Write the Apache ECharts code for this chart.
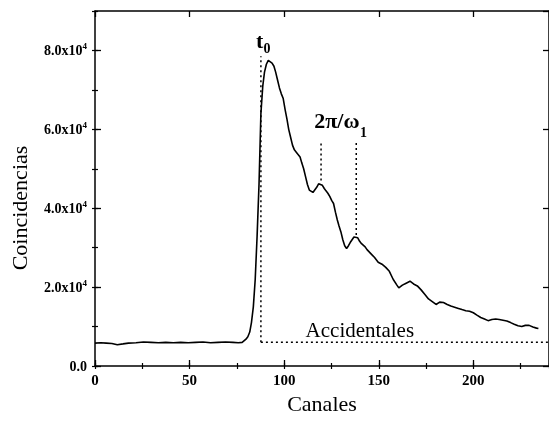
<!DOCTYPE html>
<html>
<head>
<meta charset="utf-8">
<script src="https://cdn.jsdelivr.net/npm/echarts@6/dist/echarts.min.js"></script>
<style>
  html, body { margin: 0; padding: 0; background: #fff; }
  #chart { width: 549px; height: 421px; }
</style>
</head>
<body>
<div id="chart"></div>
<script>
// Coincidence spectrum: counts per channel
const channels = [0, 3, 5.9, 8.9, 11.8, 14.8, 17.7, 21.7, 25.6, 29.6, 33.5, 37.4, 41.4, 45.3, 49.3, 53.2, 57.1, 61.1, 65, 69, 72.9, 75.8, 77.8,
  78.8, 79.8, 80.8, 81.8, 82.7, 83.7, 84.7, 85.7, 86.7, 87.7, 88.7, 89.6, 90.6, 91.6, 92.6, 93.6, 94.6, 95.5, 96.5, 97.5,
  98.5, 99.5, 100.5, 101.5, 102.4, 103.4, 104.4, 105.4, 106.4, 107.4, 108.4, 109.3, 110.3, 111.3, 112.3, 113.3, 114.3, 115.2, 116.2, 117.2,
  118.2, 119.2, 120.2, 121.2, 122.1, 123.1, 124.1, 125.1, 126.1, 127.1, 128.1, 129, 130, 131, 132, 133, 134, 134.9, 135.9, 136.9,
  137.9, 138.9, 139.9, 140.9, 141.8, 142.8, 143.8, 144.8, 145.8, 147.8, 149.7, 151.7, 153.7, 155.6, 157.6, 159.6, 160.6, 162.5, 164.5, 166.5,
  168.4, 170.4, 172.4, 174.3, 176.3, 178.3, 180.3, 182.2, 184.2, 186.2, 188.1, 190.1, 192.1, 194, 196, 198, 200, 201.9, 203.9, 205.9,
  207.8, 209.8, 211.8, 213.7, 215.7, 217.7, 219.7, 221.6, 223.6, 225.6, 227.5, 229.5, 231.5, 233.4, 234.4];
const counts = [5800, 5900, 5800, 5700, 5400, 5600, 5800, 5900, 6100, 6000, 5900, 6000, 5900, 6000, 5900, 6000, 6100, 5900, 6000, 6100, 6000, 5900, 6000,
  6300, 6800, 7400, 8600, 11000, 15000, 22000, 33000, 46000, 64000, 71000, 74500, 76500, 77500, 77300, 76800, 76000, 74500, 72500, 70500,
  69000, 67800, 65000, 62500, 60000, 58000, 56000, 54800, 54200, 54400, 53000, 51500, 50000, 48000, 46000, 44600, 44200, 44000, 44500, 45300,
  46200, 46400, 45800, 45000, 44400, 43800, 43000, 42000, 41200, 39000, 37000, 35500, 34000, 32000, 30500, 29800, 30500, 31300, 32000, 32700,
  33000, 32500, 31600, 31000, 30500, 30200, 29500, 29000, 28500, 27500, 26300, 25800, 25000, 24000, 22000, 20500, 19800, 20500, 21000, 21500,
  20800, 20300, 19300, 18200, 17000, 16300, 15600, 16200, 16100, 15600, 15200, 14900, 14600, 14300, 14000, 13900, 13500, 12900, 12300, 11900,
  11500, 11800, 11900, 11800, 11600, 11400, 11000, 10600, 10200, 10000, 10300, 10300, 9900, 9600, 9500];

// Reference levels and markers
const accidentalLevel = 6000;
const t0Channel = 87.7;
const t0Top = 78500;
const periodChannels = [119.5, 138.1];
const periodBottoms = [47000, 33200];
const periodTop = 56600;

// Axis extents and tick labels
const xMax = 240;
const yMax = 90000;
const xTickLabels = ['0', '50', '100', '150', '200'];
const yTickLabels = ['0.0', '2.0x10', '4.0x10', '6.0x10', '8.0x10'];

// Annotation texts, anchored in data coordinates
const notes = [
  { text: 't', at: [87, 82000], size: 22, bold: true },
  { text: '0', at: [90.9, 80300], size: 14, bold: true },
  { text: '2π/ω', at: [127.9, 61800], size: 22, bold: true },
  { text: '1', at: [142, 59000], size: 14, bold: true },
  { text: 'Accidentales', at: [140, 8700], size: 21, bold: false }
];

const serif = '"Liberation Serif", "Times New Roman", serif';
const curve = channels.map((c, i) => [c, counts[i]]);

const chart = echarts.init(document.getElementById('chart'));

function frameAxis(base, extra) {
  return Object.assign({
    axisLine: { show: true, onZero: false, lineStyle: { color: '#000', width: 1.5 } },
    axisTick: { show: true, inside: true, length: 6, lineStyle: { color: '#000', width: 1.3 } },
    axisLabel: { show: false },
    splitLine: { show: false }
  }, base, extra || {});
}

const minorTick = { show: true, inside: true, length: 3, lineStyle: { color: '#000', width: 1.2 } };
const xBase = { type: 'value', min: 0, max: xMax };
const yBase = { type: 'value', min: 0, max: yMax };
const dotted = { color: '#000', width: 1.5, type: [2, 3] };

const option = {
  animation: false,
  backgroundColor: '#fff',
  // the plot frame runs a few pixels past the right edge of the canvas
  grid: { left: 95, top: 11, width: 458, height: 361 },
  xAxis: [
    frameAxis(xBase, {
      position: 'bottom', interval: 50,
      axisLabel: {
        show: true, showMaxLabel: false, margin: 8,
        fontFamily: serif, fontWeight: 'bold', fontSize: 15, color: '#000',
        formatter: v => xTickLabels[Math.round(v / 50)] || ''
      },
      name: 'Canales', nameLocation: 'middle', nameGap: 28,
      nameTextStyle: { fontFamily: serif, fontSize: 22, color: '#000' }
    }),
    frameAxis(xBase, { position: 'bottom', interval: 25, axisLine: { show: false }, axisTick: minorTick }),
    frameAxis(xBase, { position: 'top', interval: 50 }),
    frameAxis(xBase, { position: 'top', interval: 25, axisLine: { show: false }, axisTick: minorTick })
  ],
  yAxis: [
    frameAxis(yBase, {
      position: 'left', interval: 20000,
      axisLabel: {
        show: true, showMaxLabel: false, margin: 8,
        fontFamily: serif, fontWeight: 'bold', fontSize: 14, color: '#000',
        formatter: v => {
          const i = Math.round(v / 20000);
          if (i === 0) return '{b|' + yTickLabels[0] + '}';
          return '{b|' + (yTickLabels[i] || '') + '}{s|4}';
        },
        rich: {
          b: { fontFamily: serif, fontWeight: 'bold', fontSize: 14, color: '#000', verticalAlign: 'bottom', lineHeight: 16 },
          s: { fontFamily: serif, fontWeight: 'bold', fontSize: 9, color: '#000', verticalAlign: 'top', lineHeight: 16, padding: [0, 0, 6, 0] }
        }
      }
    }),
    frameAxis(yBase, { position: 'left', interval: 10000, axisLine: { show: false }, axisTick: minorTick }),
    frameAxis(yBase, { position: 'right', interval: 20000 }),
    frameAxis(yBase, { position: 'right', interval: 10000, axisLine: { show: false }, axisTick: minorTick })
  ],
  series: [
    {
      type: 'line', data: curve, showSymbol: false, symbol: 'none',
      lineStyle: { color: '#000', width: 1.6 }, z: 5
    },
    {
      // accidental coincidence level
      type: 'line', data: [[t0Channel, accidentalLevel], [xMax, accidentalLevel]], symbol: 'none', lineStyle: dotted
    },
    {
      type: 'line', data: [[t0Channel, accidentalLevel], [t0Channel, t0Top]], symbol: 'none', lineStyle: dotted
    },
    {
      type: 'line', data: [[periodChannels[0], periodBottoms[0]], [periodChannels[0], periodTop]], symbol: 'none', lineStyle: dotted
    },
    {
      type: 'line', data: [[periodChannels[1], periodBottoms[1]], [periodChannels[1], periodTop]], symbol: 'none', lineStyle: dotted
    }
  ]
};

chart.setOption(option);

// Text overlays placed through the axes' own coordinate conversion
const texts = notes.map(n => {
  const p = chart.convertToPixel({ xAxisIndex: 0, yAxisIndex: 0 }, n.at);
  return {
    type: 'text', x: p[0], y: p[1], z: 10, silent: true,
    style: {
      text: n.text, fontFamily: serif, fontSize: n.size, fontWeight: n.bold ? 'bold' : 'normal',
      fill: '#000', align: 'center', verticalAlign: 'middle'
    }
  };
});
texts.push({
  type: 'text', x: 21, y: 208, rotation: Math.PI / 2, silent: true,
  style: { text: 'Coincidencias', fontFamily: serif, fontSize: 22, fill: '#000', align: 'center', verticalAlign: 'middle' }
});
chart.setOption({ graphic: texts });
</script>
</body>
</html>
